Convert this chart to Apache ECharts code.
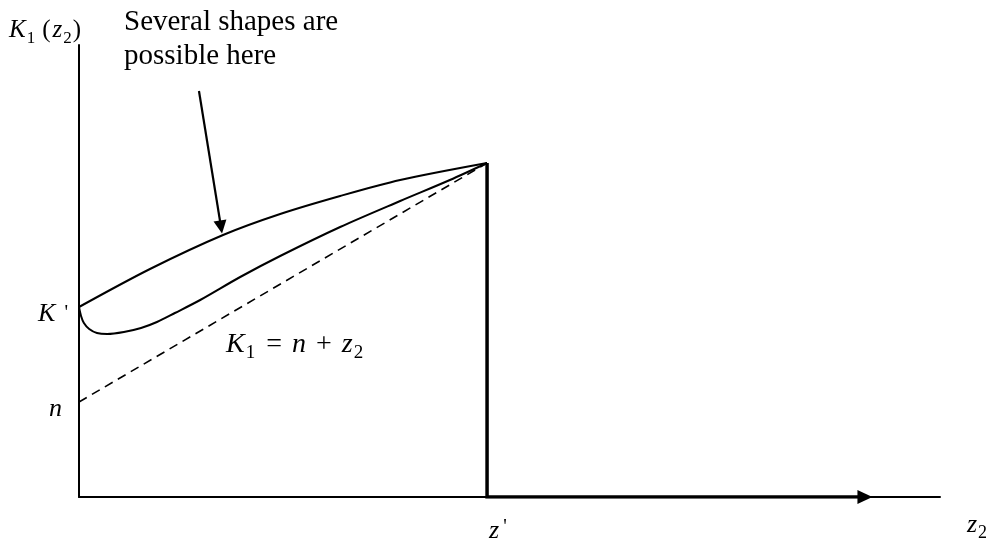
<!DOCTYPE html>
<html>
<head>
<meta charset="utf-8">
<script src="https://cdn.jsdelivr.net/npm/echarts@6/dist/echarts.min.js"></script>
<style>
  html, body { margin: 0; padding: 0; background: #ffffff; }
  #chart { width: 996px; height: 544px; }
</style>
</head>
<body>
<div id="chart"></div>
<script>
// Horizontal axis: z2 measured in units of z'
const zTicks = [1];
const zTickText = ["z'"];
// Vertical axis: K1 levels marked on the axis
const kTicks = [0.95, 1.90];
const kTickText = ['n', "K'"];

// Upper (concave) shape of K1(z2)
const zUpper = [0, 0.174, 0.353, 0.493, 0.640, 0.787, 1];
const kUpper = [1.90, 2.28, 2.62, 2.83, 3.01, 3.17, 3.34];

// Lower shape: dips below K' and then rises to the corner
const zLower = [0, 0.005, 0.012, 0.025, 0.044, 0.069, 0.110, 0.152, 0.191, 0.235, 0.297, 0.395, 0.493, 0.640, 0.787, 0.909, 1];
const kLower = [1.90, 1.81, 1.74, 1.68, 1.64, 1.63, 1.65, 1.69, 1.75, 1.84, 1.97, 2.20, 2.41, 2.70, 2.96, 3.17, 3.34];

// Dashed reference line K1 = n + z2
const zDash = [0, 1];
const kDash = [0.95, 3.34];

// Boundary: vertical drop at z' and the path along the z2 axis
const zBound = [1, 1, 1.926];
const kBound = [3.34, 0, 0];

// Pointer from the note down to the upper curve
const notePointer = [[0.294, 4.06], [0.348, 2.70]];

const zip = (xs, ys) => xs.map((x, i) => [x, ys[i]]);

const serif = 'Liberation Serif';
const ink = '#000000';

const curveStyle = {
  type: 'line',
  smooth: 0.3,
  showSymbol: false,
  symbol: 'none',
  lineStyle: { color: ink, width: 2 }
};

const boundPts = zip(zBound, kBound);

const chart = echarts.init(document.getElementById('chart'), null, { renderer: 'canvas' });

chart.setOption({
  animation: false,
  backgroundColor: '#ffffff',
  grid: { left: 79, right: 56, top: 45, bottom: 47, containLabel: false },
  xAxis: {
    type: 'value',
    min: 0,
    max: 2.11,
    splitLine: { show: false },
    axisTick: { show: false },
    axisLine: { show: true, lineStyle: { color: ink, width: 2 } },
    axisLabel: {
      show: true,
      customValues: zTicks,
      margin: 21,
      align: 'left',
      color: ink,
      fontFamily: serif,
      fontSize: 26,
      formatter: (v) => {
        const t = zTickText[zTicks.indexOf(v)] || '';
        return '{i|' + t.charAt(0) + '}{r|' + t.slice(1) + '}';
      },
      rich: {
        i: { fontFamily: serif, fontStyle: 'italic', fontSize: 26, color: ink, padding: [0, 0, 0, 2] },
        r: { fontFamily: serif, fontSize: 20, color: ink, verticalAlign: 'top', padding: [0, 0, 0, 4] }
      }
    }
  },
  yAxis: {
    type: 'value',
    min: 0,
    max: 4.52,
    splitLine: { show: false },
    axisTick: { show: false },
    axisLine: { show: true, lineStyle: { color: ink, width: 2 } },
    axisLabel: {
      show: true,
      customValues: kTicks,
      margin: 11,
      color: ink,
      fontFamily: serif,
      fontSize: 26,
      padding: [14, 0, 0, 0],
      formatter: (v) => {
        const t = kTickText[kTicks.indexOf(v)] || '';
        if (t.length > 1) return '{i|' + t.charAt(0) + '}{r|' + t.slice(1) + '}';
        return '{n|' + t + '}';
      },
      rich: {
        i: { fontFamily: serif, fontStyle: 'italic', fontSize: 26, color: ink },
        n: { fontFamily: serif, fontStyle: 'italic', fontSize: 26, color: ink, padding: [0, 6, 0, 0] },
        r: { fontFamily: serif, fontSize: 20, color: ink, padding: [0, 0, 0, 9] }
      }
    }
  },
  series: [
    Object.assign({ name: 'upper', data: zip(zUpper, kUpper) }, curveStyle),
    Object.assign({ name: 'lower', data: zip(zLower, kLower) }, curveStyle),
    {
      name: 'n + z2',
      type: 'line',
      data: zip(zDash, kDash),
      showSymbol: false,
      symbol: 'none',
      lineStyle: { color: ink, width: 1.6, type: [9, 6] }
    },
    {
      name: 'boundary',
      type: 'line',
      data: boundPts,
      showSymbol: false,
      symbol: 'none',
      lineStyle: { color: ink, width: 3.5, join: 'miter' }
    },
    {
      // arrowhead at the end of the boundary path
      name: 'boundary arrow',
      type: 'scatter',
      data: [boundPts[boundPts.length - 1]],
      symbol: 'triangle',
      symbolSize: [14, 15],
      symbolRotate: -90,
      itemStyle: { color: ink, opacity: 1 },
      silent: true
    },
    {
      name: 'note pointer',
      type: 'lines',
      coordinateSystem: 'cartesian2d',
      symbol: ['none', 'triangle'],
      symbolSize: [0, 13],
      lineStyle: { color: ink, width: 2.2, opacity: 1 },
      data: [{ coords: notePointer }]
    }
  ],
  graphic: [
    {
      type: 'text',
      x: 9,
      y: 18,
      style: {
        text: '{k|K}{s|1}{o|(}{k|z}{s|2}{c|)}',
        fill: ink,
        rich: {
          k: { fontFamily: serif, fontStyle: 'italic', fontSize: 25, lineHeight: 25, verticalAlign: 'top', fill: ink },
          o: { fontFamily: serif, fontSize: 25, lineHeight: 25, verticalAlign: 'top', fill: ink, padding: [0, 2, 0, 6] },
          c: { fontFamily: serif, fontSize: 25, lineHeight: 25, verticalAlign: 'top', fill: ink },
          s: { fontFamily: serif, fontSize: 17, lineHeight: 29, verticalAlign: 'bottom', fill: ink, padding: [0, 1, 0, 1] }
        }
      }
    },
    {
      type: 'text',
      x: 124,
      y: 5,
      style: {
        text: 'Several shapes are\npossible here',
        fill: ink,
        font: '29px "Liberation Serif"',
        lineHeight: 34
      }
    },
    {
      type: 'text',
      x: 226,
      y: 331,
      style: {
        text: '{k|K}{s|1}{p| = }{k|n}{p| + }{k|z}{s|2}',
        fill: ink,
        rich: {
          k: { fontFamily: serif, fontStyle: 'italic', fontSize: 28, lineHeight: 28, verticalAlign: 'top', fill: ink },
          p: { fontFamily: serif, fontSize: 28, lineHeight: 28, verticalAlign: 'top', fill: ink, padding: [0, 3, 0, 3] },
          s: { fontFamily: serif, fontSize: 19, lineHeight: 32, verticalAlign: 'bottom', fill: ink, padding: [0, 1, 0, 1] }
        }
      }
    },
    {
      type: 'text',
      x: 967,
      y: 512,
      style: {
        text: '{k|z}{s|2}',
        fill: ink,
        rich: {
          k: { fontFamily: serif, fontStyle: 'italic', fontSize: 26, lineHeight: 26, verticalAlign: 'top', fill: ink },
          s: { fontFamily: serif, fontSize: 18, lineHeight: 30, verticalAlign: 'bottom', fill: ink, padding: [0, 0, 0, 1] }
        }
      }
    }
  ]
});
</script>
</body>
</html>
